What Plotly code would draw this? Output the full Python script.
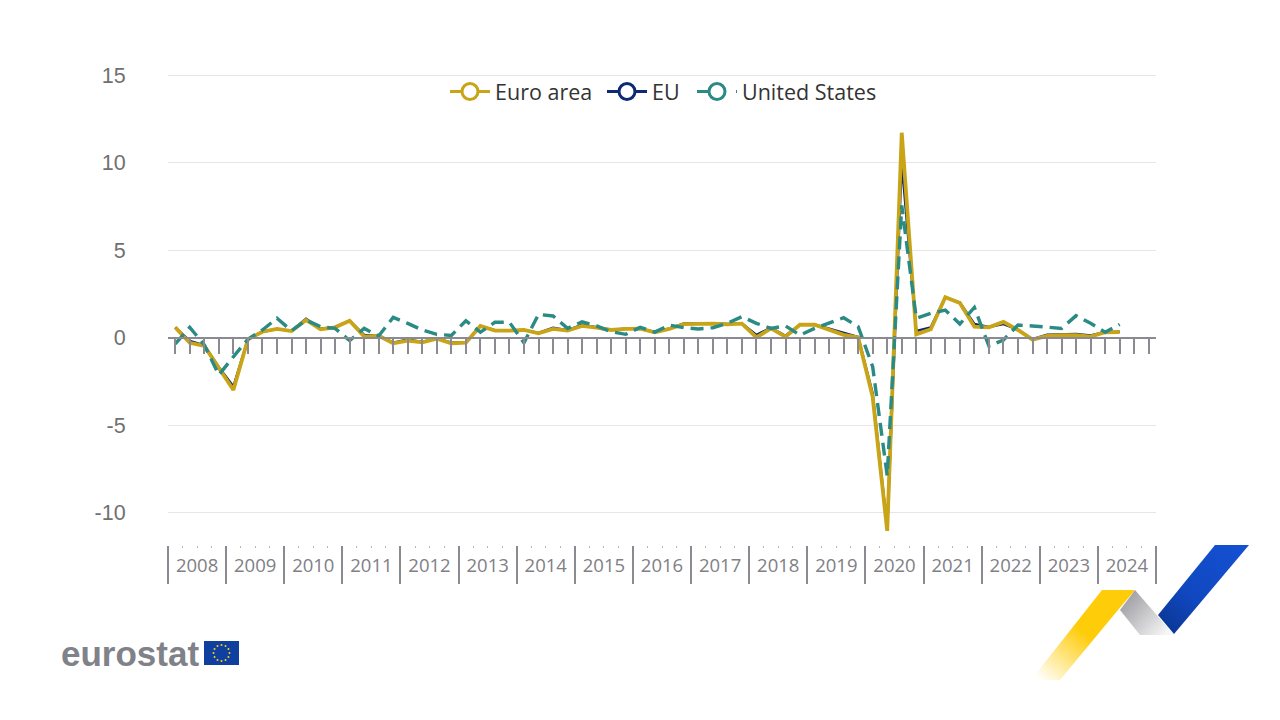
import base64, math
import plotly.graph_objects as go

years = list(range(2008, 2025))
quarters = [f"{y}Q{q}" for y in years for q in (1, 2, 3, 4)]

euro_area = [0.58, -0.3, -0.48, -1.76, -3.0, -0.1, 0.33, 0.49, 0.37, 1.0, 0.47, 0.58,
             0.96, 0.05, 0.1, -0.33, -0.18, -0.28, -0.07, -0.33, -0.3, 0.66, 0.39, 0.39,
             0.43, 0.24, 0.49, 0.39, 0.66, 0.56, 0.43, 0.49, 0.5, 0.3, 0.49, 0.77,
             0.79, 0.79, 0.75, 0.79, 0.01, 0.52, 0.05, 0.73, 0.73, 0.43, 0.15, 0.0,
             -3.4, -11.05, 11.7, 0.18, 0.47, 2.3, 1.97, 0.62, 0.58, 0.89, 0.43, -0.12,
             0.09, 0.14, 0.14, 0.05, 0.3, 0.31]
eu = [0.58, -0.2, -0.45, -1.7, -2.8, -0.1, 0.33, 0.49, 0.37, 1.07, 0.5, 0.6,
      0.96, 0.15, 0.1, -0.3, -0.12, -0.25, -0.05, -0.3, -0.27, 0.66, 0.42, 0.4,
      0.43, 0.26, 0.55, 0.42, 0.72, 0.6, 0.45, 0.5, 0.52, 0.32, 0.5, 0.8,
      0.83, 0.82, 0.77, 0.8, 0.15, 0.55, 0.1, 0.75, 0.75, 0.5, 0.25, 0.03,
      -3.2, -10.9, 10.0, 0.37, 0.58, 2.3, 2.0, 0.77, 0.6, 0.77, 0.45, -0.1,
      0.16, 0.18, 0.2, 0.12, 0.32, 0.33]
united_states = [-0.37, 0.58, -0.43, -2.14, -1.1, -0.1, 0.43, 1.1, 0.39, 1.0, 0.62, 0.52,
                 -0.18, 0.52, 0.09, 1.15, 0.81, 0.43, 0.18, 0.12, 0.96, 0.3, 0.87, 0.87,
                 -0.3, 1.32, 1.23, 0.52, 0.9, 0.66, 0.33, 0.18, 0.58, 0.31, 0.71, 0.56,
                 0.49, 0.56, 0.81, 1.19, 0.81, 0.52, 0.66, 0.14, 0.52, 0.85, 1.13, 0.62,
                 -1.67, -7.9, 7.55, 1.1, 1.38, 1.57, 0.77, 1.72, -0.49, -0.14, 0.71, 0.66,
                 0.58, 0.52, 1.25, 0.81, 0.3, 0.75]

GOLD, NAVY, TEAL = "#c9a416", "#0f2a75", "#2a8a84"
DASH = "13px,7px"
TICK = "#8a8a90"

PLOT_W, PLOT_H = 988, 472
y_low, y_high = -11.857, 15 + 2 / 17.5
fig = go.Figure()


def px_x(px):
    return (px - 168) / PLOT_W


def px_y(py):
    return 1 - (py - 73) / PLOT_H


# the lines; gold above navy, teal above gold
for name, vals, col, width, dash in [("EU", eu, NAVY, 2.5, "solid"),
                                     ("Euro area", euro_area, GOLD, 3.8, "solid"),
                                     ("United States", united_states, TEAL, 3.4, DASH)]:
    fig.add_trace(go.Scatter(x=quarters[:len(vals)], y=vals, mode="lines", name=name,
                             legendgroup=name, showlegend=False,
                             line=dict(color=col, width=width, dash=dash)))

# legend glyphs: line plus open circle, one small legend per entry
for name, col, dash, leg in [("Euro area", GOLD, "solid", "legend"), ("EU", NAVY, "solid", "legend2"),
                             ("United States", TEAL, "16px,6px,1px", "legend3")]:
    fig.add_trace(go.Scatter(x=[None], y=[None], mode="lines+markers", name=name, legendgroup=name, legend=leg,
                             line=dict(color=col, width=3, dash=dash),
                             marker=dict(symbol="circle", size=16, color="white",
                                         line=dict(color=col, width=3))))

# empty traces so the helper axes exist
fig.add_trace(go.Scatter(x=[None], y=[None], xaxis="x2", showlegend=False, hoverinfo="skip"))
fig.add_trace(go.Scatter(x=[None], y=[None], xaxis="x3", showlegend=False, hoverinfo="skip"))

# ---- decoration pictures (logo flag, ribbon) as inline SVG
stars = "".join(
    f'<circle cx="{17.5 + 8 * math.cos(i * math.pi / 6):.2f}" cy="{12 + 8 * math.sin(i * math.pi / 6):.2f}" r="1" fill="#f5d020"/>'
    for i in range(12))
flag = f'<svg xmlns="http://www.w3.org/2000/svg" width="35" height="24" viewBox="0 0 35 24"><rect width="35" height="24" fill="#0f3f9f"/>{stars}</svg>'
ribbon = ('<svg xmlns="http://www.w3.org/2000/svg" width="230" height="140" viewBox="0 0 230 140"><defs>'
          '<linearGradient id="y" gradientUnits="userSpaceOnUse" x1="85" y1="45" x2="10" y2="135">'
          '<stop offset="0" stop-color="#ffcc0a"/><stop offset="0.45" stop-color="#ffcc0a"/><stop offset="1" stop-color="#ffcc0a" stop-opacity="0"/></linearGradient>'
          '<linearGradient id="g" gradientUnits="userSpaceOnUse" x1="90" y1="50" x2="135" y2="90">'
          '<stop offset="0" stop-color="#96969c"/><stop offset="1" stop-color="#f6f6f6"/></linearGradient>'
          '<linearGradient id="b" gradientUnits="userSpaceOnUse" x1="210" y1="0" x2="135" y2="90">'
          '<stop offset="0" stop-color="#1450d2"/><stop offset="0.6" stop-color="#1148c0"/><stop offset="1" stop-color="#0a3590"/></linearGradient></defs>'
          '<polygon points="72,45 105,45 88,65 30,135 1,135" fill="url(#y)"/>'
          '<polygon points="105,45 90,65 110,90 144,90" fill="url(#g)"/>'
          '<polygon points="185,0 219,0 144,89 128,70" fill="url(#b)"/></svg>')


def uri(svg):
    return "data:image/svg+xml;base64," + base64.b64encode(svg.encode()).decode()


def legend_at(px):
    return dict(orientation="h", x=px_x(px), xanchor="left", y=px_y(91.5), yanchor="middle",
                bgcolor="rgba(0,0,0,0)", itemwidth=40,
                font=dict(family="Open Sans", size=21.5, color="#333333"))


# the page has an 8px body margin, so the figure is drawn 8px smaller on each side
fig.update_layout(
    width=1264, height=704, autosize=False,
    margin=dict(l=160, r=116, t=65, b=167, pad=0),
    paper_bgcolor="white", plot_bgcolor="white",
    font=dict(family="Open Sans", color="#666666", size=18),
    showlegend=True,
    legend=legend_at(445), legend2=legend_at(602), legend3=legend_at(692),
    xaxis=dict(type="category", categoryorder="array", categoryarray=quarters, range=[-0.5, 67.5],
               anchor="free", position=-y_low / (y_high - y_low), domain=[0, 1],
               showgrid=False, zeroline=False, showline=True, linecolor=TICK, linewidth=2,
               ticks="outside", ticklen=15, tickwidth=2, tickcolor=TICK, dtick=1,
               showticklabels=False),
    xaxis2=dict(overlaying="x", anchor="y", side="bottom", range=[2008, 2025], tickmode="linear",
                tick0=2008, dtick=1, ticks="outside", ticklen=38, tickwidth=2, tickcolor=TICK,
                showticklabels=False, showgrid=False, zeroline=False, showline=False,
                minor=dict(ticks="outside", dtick=0.25, tick0=2008, ticklen=2, tickwidth=1,
                           tickcolor="#b5b5b5", showgrid=False)),
    xaxis3=dict(overlaying="x", anchor="y", side="bottom", range=[2008, 2025],
                tickmode="array", tickvals=[y + 0.5 for y in years], ticktext=[str(y) for y in years],
                ticks="outside", ticklen=4, tickcolor="rgba(0,0,0,0)", tickangle=0,
                tickfont=dict(family="Open Sans", size=18.5, color="#808086"),
                showgrid=False, zeroline=False, showline=False),
    yaxis=dict(range=[y_low, y_high], tickmode="array", tickvals=[-10, -5, 0, 5, 10, 15],
               ticktext=["-10", "-5", "0", "5", "10", "15"],
               ticks="outside", ticklen=37, tickcolor="rgba(0,0,0,0)",
               tickfont=dict(family="Liberation Sans", size=21.5, color="#707070"),
               showgrid=True, gridcolor="#e6e6ea", gridwidth=1, zeroline=False, showline=False),
    annotations=[dict(text="<b>eurostat</b>", xref="paper", yref="paper", x=-0.1105, y=px_y(653),
                      xanchor="left", yanchor="middle", showarrow=False,
                      font=dict(family="Liberation Sans", size=35, color="#7f8288"))],
    images=[
        dict(source=uri(flag), xref="paper", yref="paper", x=px_x(204), y=px_y(641),
             sizex=35 / PLOT_W, sizey=24 / PLOT_H, xanchor="left", yanchor="top", sizing="stretch", layer="above"),
        dict(source=uri(ribbon), xref="paper", yref="paper", x=px_x(1030), y=px_y(545),
             sizex=230 / PLOT_W, sizey=140 / PLOT_H, xanchor="left", yanchor="top", sizing="stretch", layer="above"),
    ],
)
fig.write_html("out.html", config=dict(displayModeBar=False))
